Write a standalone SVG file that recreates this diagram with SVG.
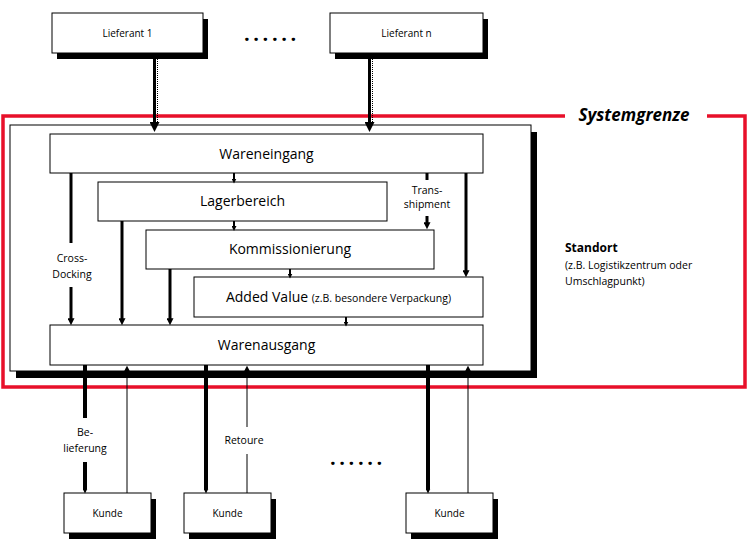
<svg xmlns="http://www.w3.org/2000/svg" width="748" height="540" viewBox="0 0 748 540">
<style>
.box{fill:#fff;stroke:#000;stroke-width:1}
.sh{fill:#000}
text{font-family:"Open Sans","Noto Sans",sans-serif;fill:#000}
.t14{font-size:14px;text-anchor:middle}
.t10{font-size:10px;text-anchor:middle}
.lbl{font-size:10.5px;text-anchor:middle}
.thick{stroke:#000;stroke-width:3;fill:none}
.heavy{stroke:#000;stroke-width:4;fill:none}
.sml{stroke:#000;stroke-width:2;fill:none}
.thin{stroke:#000;stroke-width:1;fill:none}
.dots{font-size:20px;font-weight:bold;letter-spacing:3.6px}
</style>
<defs>
<marker id="big" viewBox="0 0 10 10" refX="1" refY="5" markerWidth="10" markerHeight="10" markerUnits="userSpaceOnUse" orient="auto"><path d="M0,0 L10,5 L0,10 z"/></marker>
<marker id="mid" viewBox="0 0 10 10" refX="1" refY="5" markerWidth="7" markerHeight="7" markerUnits="userSpaceOnUse" orient="auto"><path d="M0,0 L10,5 L0,10 z"/></marker>
<marker id="sm" viewBox="0 0 10 10" refX="1" refY="5" markerWidth="5" markerHeight="5" markerUnits="userSpaceOnUse" orient="auto"><path d="M0,0 L10,5 L0,10 z"/></marker>
<marker id="up" viewBox="0 0 10 10" refX="1" refY="5" markerWidth="6" markerHeight="6" markerUnits="userSpaceOnUse" orient="auto"><path d="M0,0 L10,5 L0,10 z"/></marker>
</defs>

<!-- System boundary -->
<g id="systemgrenze">
<path d="M565,116 H3 V387 H745 V116 H707" fill="none" stroke="#e8102a" stroke-width="3.5"/>
<text x="634" y="121" font-size="17" font-weight="bold" font-style="italic" text-anchor="middle">Systemgrenze</text>
</g>

<g id="standort">
<rect class="sh" x="16" y="132" width="521" height="246"/>
<rect class="box" x="10" y="125" width="521" height="246"/>
<text x="565" y="252" font-size="12" font-weight="bold">Standort</text>
<text x="565" y="269" font-size="10.5" fill="#222">(z.B. Logistikzentrum oder</text>
<text x="565" y="285" font-size="10.5" fill="#222">Umschlagpunkt)</text>
</g>

<g id="lieferant1">
<rect class="sh" x="57" y="19" width="151" height="40"/>
<rect class="box" x="52" y="13" width="151" height="40"/>
<text class="t10" x="127.5" y="36.5">Lieferant 1</text>
</g>
<g id="lieferantn">
<rect class="sh" x="335" y="19" width="153" height="40"/>
<rect class="box" x="330" y="13" width="153" height="40"/>
<text class="t10" x="406.5" y="36.5">Lieferant n</text>
</g>
<text class="dots" x="244" y="41">......</text>

<g id="wareneingang">
<rect class="box" x="50" y="134" width="433" height="39"/>
<text class="t14" x="266.5" y="159">Wareneingang</text>
</g>
<g id="lagerbereich">
<rect class="box" x="98" y="182" width="289" height="39"/>
<text class="t14" x="242.5" y="206">Lagerbereich</text>
</g>
<g id="kommissionierung">
<rect class="box" x="146" y="230" width="288" height="39"/>
<text class="t14" x="290" y="254">Kommissionierung</text>
</g>
<g id="addedvalue">
<rect class="box" x="194" y="277" width="289" height="40"/>
<text class="t14" x="338.5" y="302">Added Value <tspan font-size="10.5">(z.B. besondere Verpackung)</tspan></text>
</g>
<g id="warenausgang">
<rect class="box" x="50" y="325" width="433" height="40"/>
<text class="t14" x="266.5" y="350">Warenausgang</text>
</g>

<g id="kunde1">
<rect class="sh" x="69" y="499" width="87" height="40"/>
<rect class="box" x="64" y="493" width="87" height="40"/>
<text class="t10" x="107.5" y="516.5">Kunde</text>
</g>
<g id="kunde2">
<rect class="sh" x="189" y="499" width="87" height="40"/>
<rect class="box" x="184" y="493" width="87" height="40"/>
<text class="t10" x="227.5" y="516.5">Kunde</text>
</g>
<g id="kunde3">
<rect class="sh" x="411" y="499" width="87" height="40"/>
<rect class="box" x="406" y="493" width="87" height="40"/>
<text class="t10" x="449.5" y="516.5">Kunde</text>
</g>
<text class="dots" x="330" y="465">......</text>

<g id="connectors">
<!-- supplier inflow -->
<line class="thick" x1="154.5" y1="59" x2="154.5" y2="123" marker-end="url(#big)"/>
<line x1="157.5" y1="59" x2="157.5" y2="124" stroke="#000" stroke-width="1" stroke-dasharray="1,1"/>
<line class="thick" x1="369.5" y1="59" x2="369.5" y2="123" marker-end="url(#big)"/>
<line x1="372.5" y1="59" x2="372.5" y2="124" stroke="#000" stroke-width="1" stroke-dasharray="1,1"/>

<!-- internal small flow -->
<line class="sml" x1="234" y1="173" x2="234" y2="179" marker-end="url(#sm)"/>
<line class="sml" x1="234" y1="221" x2="234" y2="226.5" marker-end="url(#sm)"/>
<line class="sml" x1="290" y1="269" x2="290" y2="274" marker-end="url(#sm)"/>
<line class="sml" x1="346" y1="317" x2="346" y2="322" marker-end="url(#sm)"/>

<!-- cross docking -->
<line class="thick" x1="71" y1="173" x2="71" y2="243"/>
<line class="thick" x1="71" y1="287" x2="71" y2="319" marker-end="url(#mid)"/>
<text class="lbl" x="72" y="262">Cross-</text>
<text class="lbl" x="72" y="278">Docking</text>

<line class="thick" x1="122" y1="221" x2="122" y2="319" marker-end="url(#mid)"/>
<line class="thick" x1="170" y1="269" x2="170" y2="319" marker-end="url(#mid)"/>
<line class="thick" x1="466" y1="173" x2="466" y2="271" marker-end="url(#mid)"/>

<!-- transshipment -->
<line class="thick" x1="427" y1="173" x2="427" y2="180"/>
<line class="thick" x1="427" y1="216" x2="427" y2="223" marker-end="url(#mid)"/>
<text class="lbl" x="427" y="194" font-size="10">Trans-</text>
<text class="lbl" x="427" y="208" font-size="10">shipment</text>

<!-- delivery -->
<line class="heavy" x1="85" y1="365" x2="85" y2="418"/>
<line class="heavy" x1="85" y1="462" x2="85" y2="489" marker-end="url(#sm)"/>
<text class="lbl" x="85" y="436" font-size="11">Be-</text>
<text class="lbl" x="85" y="452" font-size="11">lieferung</text>
<line class="heavy" x1="206" y1="365" x2="206" y2="489" marker-end="url(#sm)"/>
<line class="heavy" x1="428" y1="365" x2="428" y2="489" marker-end="url(#sm)"/>

<!-- returns -->
<line class="thin" x1="127" y1="493" x2="127" y2="371" marker-end="url(#up)"/>
<line class="thin" x1="247" y1="493" x2="247" y2="454"/>
<line class="thin" x1="247" y1="427" x2="247" y2="371" marker-end="url(#up)"/>
<text class="lbl" x="244" y="444" font-size="11">Retoure</text>
<line class="thin" x1="468" y1="493" x2="468" y2="371" marker-end="url(#up)"/>
</g>
</svg>
